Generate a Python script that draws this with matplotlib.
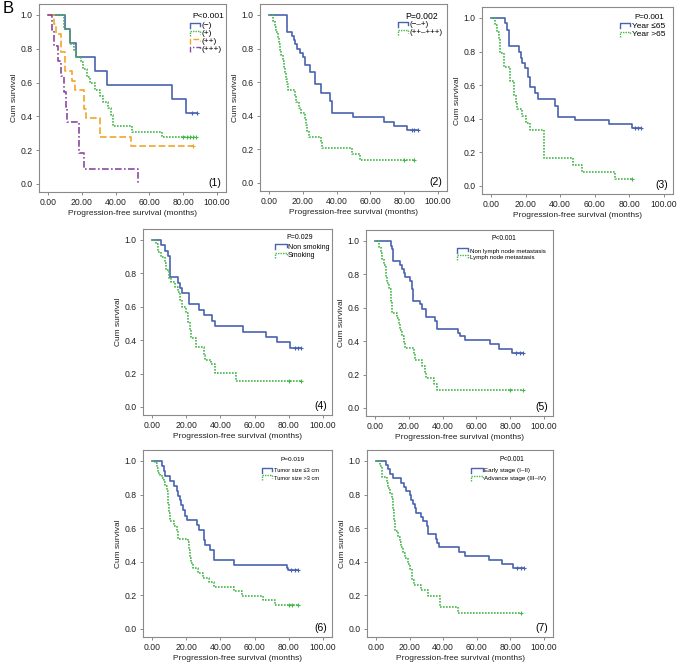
import matplotlib
matplotlib.use("Agg")
import matplotlib.pyplot as plt

plt.rcParams['font.family'] = ['Liberation Sans', 'DejaVu Sans']

W, H = 677, 671

# ---- survival data (event times in months, survival after each event, censor times)
p1_neg_t = [10.3, 13.2, 16.4, 27.6, 35.1, 73.6, 81.9]
p1_neg_s = [0.917, 0.833, 0.75, 0.667, 0.583, 0.5, 0.417]
p1_neg_c = [85.0, 88.0]
p1_pos_t = [9.5, 12.8, 15.2, 16.8, 19.7, 20.7, 23.1, 24.7, 27.6, 30.6, 32.5, 35.5, 37.5, 38.5, 49.9, 67.7]
p1_pos_s = [0.915, 0.83, 0.79, 0.75, 0.72, 0.68, 0.63, 0.60, 0.555, 0.52, 0.485, 0.45, 0.41, 0.345, 0.31, 0.277]
p1_pos_c = [80.0, 82.5, 84.0, 86.0, 87.8]
p1_pp_t = [3.4, 4.9, 7.9, 9.9, 14.0, 15.8, 21.5, 22.5, 30.6, 49.3]
p1_pp_s = [0.944, 0.889, 0.778, 0.667, 0.611, 0.556, 0.444, 0.389, 0.278, 0.222]
p1_pp_c = [85.8]
p1_ppp_t = [2.6, 3.6, 6.1, 7.5, 9.5, 10.5, 11.5, 18.5, 21.5, 53.5]
p1_ppp_s = [0.909, 0.818, 0.727, 0.636, 0.545, 0.455, 0.364, 0.182, 0.091, 0.0]
p1_ppp_c = []

p2_a_t = [10.8, 13.8, 14.8, 15.6, 16.8, 18.1, 20.1, 21.5, 24.1, 27.0, 31.0, 35.9, 37.3, 49.7, 68.0, 74.0, 81.9]
p2_a_s = [0.9, 0.875, 0.85, 0.825, 0.80, 0.775, 0.75, 0.70, 0.66, 0.59, 0.535, 0.49, 0.415, 0.39, 0.365, 0.34, 0.317]
p2_a_c = [84.5, 86.0, 88.0]
p2_b_t = [2.4, 3.4, 4.4, 5.6, 6.2, 6.8, 7.4, 8.2, 8.8, 9.4, 10.0, 10.6, 11.0, 15.2, 16.2, 17.8, 18.7,
          21.1, 22.0, 22.7, 23.4, 31.0, 31.5, 49.3, 53.6]
p2_b_s = [0.966, 0.931, 0.897, 0.862, 0.828, 0.793, 0.759, 0.724, 0.690, 0.655, 0.621, 0.586, 0.552,
          0.517, 0.483, 0.448, 0.414, 0.379, 0.345, 0.310, 0.276, 0.241, 0.207, 0.172, 0.138]
p2_b_c = [80.0, 86.0]

p3_a_t = [7.9, 9.2, 10.2, 16.3, 17.3, 18.0, 19.6, 21.1, 22.6, 25.5, 26.9, 37.0, 38.5, 48.6, 68.3, 81.5]
p3_a_s = [0.97, 0.93, 0.83, 0.80, 0.76, 0.73, 0.70, 0.65, 0.59, 0.555, 0.52, 0.475, 0.41, 0.39, 0.37, 0.345]
p3_a_c = [83.5, 85.0, 86.5]
p3_b_t = [2.5, 3.5, 4.5, 5.4, 7.3, 10.7, 13.4, 14.3, 15.0, 17.9, 20.3, 22.3, 30.7, 47.6, 52.4, 71.6]
p3_b_s = [0.958, 0.917, 0.875, 0.792, 0.708, 0.625, 0.542, 0.5, 0.458, 0.417, 0.375, 0.333, 0.167, 0.125, 0.083, 0.042]
p3_b_c = [81.8]

p4_a_t = [5.5, 7.4, 9.4, 10.3, 15.2, 16.2, 17.7, 21.6, 27.5, 30.4, 35.3, 36.6, 53.2, 66.9, 73.1, 80.9]
p4_a_s = [0.97, 0.935, 0.905, 0.775, 0.74, 0.71, 0.68, 0.615, 0.58, 0.55, 0.515, 0.485, 0.45, 0.42, 0.39, 0.355]
p4_a_c = [83.5, 85.5, 87.3]
p4_b_t = [2.5, 3.5, 5.5, 7.4, 8.4, 9.9, 11.3, 13.3, 15.2, 16.2, 17.7, 19.7, 21.0, 22.0, 23.0, 25.9,
          30.2, 30.8, 34.7, 36.6, 48.9]
p4_b_s = [0.975, 0.93, 0.9, 0.86, 0.82, 0.77, 0.745, 0.72, 0.69, 0.64, 0.6, 0.56, 0.51, 0.46, 0.41, 0.36,
          0.31, 0.28, 0.255, 0.205, 0.155]
p4_b_c = [80.0, 87.3]

p5_a_t = [9.2, 9.8, 10.7, 15.0, 16.0, 17.0, 18.0, 20.9, 21.9, 22.5, 26.8, 27.7, 30.3, 35.5, 36.9,
          49.2, 50.2, 53.1, 67.8, 73.2, 81.0]
p5_a_s = [0.97, 0.95, 0.88, 0.855, 0.83, 0.81, 0.785, 0.76, 0.71, 0.64, 0.62, 0.595, 0.545, 0.52, 0.475,
          0.45, 0.43, 0.405, 0.38, 0.355, 0.33]
p5_a_c = [83.5, 85.5, 87.3]
p5_b_t = [2.3, 3.3, 4.3, 5.3, 6.3, 7.2, 8.2, 9.2, 10.2, 13.1, 14.1, 15.0, 16.0, 17.0, 18.0, 22.9, 23.8,
          27.7, 29.3, 30.3, 35.2, 36.9]
p5_b_s = [0.964, 0.929, 0.893, 0.857, 0.786, 0.75, 0.714, 0.643, 0.571, 0.536, 0.5, 0.464, 0.429, 0.393,
          0.357, 0.321, 0.286, 0.25, 0.214, 0.179, 0.143, 0.107]
p5_b_c = [80.0, 87.3]

p6_a_t = [5.7, 6.7, 7.7, 10.5, 13.0, 14.4, 15.3, 16.3, 17.2, 18.2, 19.5, 20.7, 26.4, 27.2, 30.3, 30.7,
          34.1, 36.0, 36.4, 47.9, 78.9, 79.5]
p6_a_s = [0.97, 0.94, 0.91, 0.88, 0.85, 0.82, 0.79, 0.765, 0.735, 0.71, 0.675, 0.65, 0.62, 0.59, 0.53, 0.5,
          0.47, 0.44, 0.41, 0.38, 0.365, 0.35]
p6_a_c = [81.5, 83.5, 85.2]
p6_b_t = [1.9, 2.9, 3.4, 4.4, 5.7, 6.7, 7.7, 8.6, 9.2, 10.0, 10.5, 13.0, 14.4, 15.3, 21.1, 21.5, 22.0,
          23.0, 24.0, 26.8, 29.7, 33.5, 36.4, 47.9, 52.7, 65.1, 71.8]
p6_b_s = [0.985, 0.96, 0.93, 0.915, 0.90, 0.875, 0.85, 0.82, 0.75, 0.69, 0.64, 0.61, 0.58, 0.535, 0.52,
          0.47, 0.42, 0.39, 0.36, 0.335, 0.305, 0.28, 0.25, 0.225, 0.195, 0.17, 0.14]
p6_b_c = [80.0, 82.0, 85.2]

p7_a_t = [5.9, 7.3, 8.3, 9.9, 15.2, 16.6, 17.8, 20.1, 21.1, 22.1, 23.1, 23.7, 26.6, 28.0, 30.6, 31.0,
          35.9, 36.5, 37.5, 49.7, 53.1, 67.5, 74.8, 81.3]
p7_a_s = [0.975, 0.95, 0.925, 0.9, 0.87, 0.845, 0.82, 0.795, 0.77, 0.745, 0.72, 0.69, 0.665, 0.64, 0.61,
          0.565, 0.535, 0.51, 0.485, 0.46, 0.435, 0.41, 0.385, 0.36]
p7_a_c = [84.0, 86.0, 88.2]
p7_b_t = [2.4, 3.4, 3.9, 6.3, 7.3, 8.3, 9.3, 9.9, 10.3, 10.8, 11.2, 13.2, 14.2, 15.2, 16.2, 17.2, 19.1,
          20.1, 21.5, 22.7, 26.6, 31.0, 37.9, 49.1]
p7_b_s = [0.97, 0.935, 0.905, 0.87, 0.84, 0.81, 0.775, 0.74, 0.71, 0.645, 0.58, 0.55, 0.515, 0.485, 0.45,
          0.42, 0.385, 0.355, 0.29, 0.26, 0.23, 0.195, 0.13, 0.097]
p7_b_c = [86.2]

p_values = ["P<0.001", "P=0.002", "P=0.001", "P=0.029", "P<0.001", "P=0.019", "P<0.001"]
legend_labels = [
    ["(\u2212)", "(+)", "(++)", "(+++)"],
    ["(\u2212\u2013+)", "(++\u2013+++)"],
    ["Year \u226465", "Year >65"],
    ["Non smoking", "Smoking"],
    ["Non lymph node metastasis", "Lymph node metastasis"],
    ["Tumor size \u22643 cm", "Tumor size >3 cm"],
    ["Early stage (I\u2013II)", "Advance stage (III\u2013IV)"],
]
x_ticks = [0, 20, 40, 60, 80, 100]
y_ticks = [0.0, 0.2, 0.4, 0.6, 0.8, 1.0]

BLUE = "#4862b0"
GREEN = "#46b84a"
ORANGE = "#f2a427"
PURPLE = "#8b4aa2"
styles = [(BLUE, "-"), (GREEN, (0, (1, 0.8))), (ORANGE, (0, (4, 1.8))), (PURPLE, (0, (4, 1.4, 1, 1.4)))]

panels = [
    # pixel box (left, top, right, bottom), curves, legend geometry (x_P, y_P, handle x, text x, y rows, font)
    ((39, 4, 226, 192), [(p1_neg_t, p1_neg_s, p1_neg_c), (p1_pos_t, p1_pos_s, p1_pos_c),
                         (p1_pp_t, p1_pp_s, p1_pp_c), (p1_ppp_t, p1_ppp_s, p1_ppp_c)],
     (0.905, 0.935, 0.81, 0.87, [0.885, 0.843, 0.801, 0.759], 6.0, 6.0)),
    ((260, 4, 447, 191), [(p2_a_t, p2_a_s, p2_a_c), (p2_b_t, p2_b_s, p2_b_c)],
     (0.865, 0.935, 0.74, 0.80, [0.888, 0.846], 6.2, 5.8)),
    ((482, 7, 673, 194), [(p3_a_t, p3_a_s, p3_a_c), (p3_b_t, p3_b_s, p3_b_c)],
     (0.875, 0.945, 0.72, 0.785, [0.898, 0.854], 5.8, 6.0)),
    ((143, 229, 332, 415), [(p4_a_t, p4_a_s, p4_a_c), (p4_b_t, p4_b_s, p4_b_c)],
     (0.83, 0.955, 0.70, 0.768, [0.903, 0.857], 5.0, 5.0)),
    ((366, 230, 553, 416), [(p5_a_t, p5_a_s, p5_a_c), (p5_b_t, p5_b_s, p5_b_c)],
     (0.738, 0.955, 0.487, 0.555, [0.887, 0.85], 4.8, 4.4)),
    ((143, 450, 332, 637), [(p6_a_t, p6_a_s, p6_a_c), (p6_b_t, p6_b_s, p6_b_c)],
     (0.79, 0.947, 0.63, 0.693, [0.888, 0.85], 4.6, 4.1)),
    ((367, 450, 553, 637), [(p7_a_t, p7_a_s, p7_a_c), (p7_b_t, p7_b_s, p7_b_c)],
     (0.78, 0.947, 0.56, 0.63, [0.888, 0.845], 4.8, 4.5)),
]


def km(ax, t, s, c, color, ls):
    end = max(c) if c else t[-1]
    xs = [0] + list(t) + [end]
    ys = [1.0] + list(s) + [s[-1]]
    ax.step(xs, ys, where="post", color=color, linestyle=ls, linewidth=1.2)
    if c:
        ax.plot(c, [s[-1]] * len(c), linestyle="none", marker="+", markersize=3,
                markeredgewidth=0.8, color=color)


fig = plt.figure(figsize=(W / 100, H / 100), dpi=100)
fig.text(0.004, 0.998, "B", fontsize=12, va="top", ha="left")

for i, (bx, curves, leg) in enumerate(panels):
    l, t, r, b = bx
    ax = fig.add_axes([l / W, 1 - b / H, (r - l) / W, (b - t) / H])
    for k, (ct, cs, cc) in enumerate(curves):
        km(ax, ct, cs, cc, styles[k][0], styles[k][1])
    ax.set_xlim(-5.3, 105.3)
    ax.set_ylim(-0.048, 1.065)
    ax.set_xticks(x_ticks)
    ax.set_xticklabels([f"{v:.2f}" for v in x_ticks])
    ax.set_yticks(y_ticks)
    ax.set_yticklabels([f"{v:.1f}" for v in y_ticks])
    ax.tick_params(labelsize=6.2, length=2.5, width=0.6, color="#777777", pad=2, labelcolor="#222222")
    for sp in ax.spines.values():
        sp.set_color("#8a8a8a")
        sp.set_linewidth(0.8)
    ax.set_xlabel("Progression-free survival (months)", fontsize=6.0, labelpad=2, color="#222222")
    ax.set_ylabel("Cum survival", fontsize=6.0, labelpad=2, color="#222222")
    ax.text(0.975, 0.05, f"({i + 1})", transform=ax.transAxes, ha="right", va="center", fontsize=7.5)

    px, py, hx, tx, rows, fp, fs = leg
    ax.text(px, py, p_values[i], transform=ax.transAxes, ha="center", va="center", fontsize=fp)
    hw = tx - hx - 0.008
    for k, lab in enumerate(legend_labels[i]):
        yy = rows[k]
        ax.plot([hx, hx, hx + hw, hx + hw], [yy - 0.012, yy + 0.014, yy + 0.014, yy],
                transform=ax.transAxes, color=styles[k][0], linestyle=styles[k][1], linewidth=1.0,
                clip_on=False)
        ax.text(tx, yy, lab, transform=ax.transAxes, ha="left", va="center", fontsize=fs)

fig.savefig("out.png", dpi=100)
